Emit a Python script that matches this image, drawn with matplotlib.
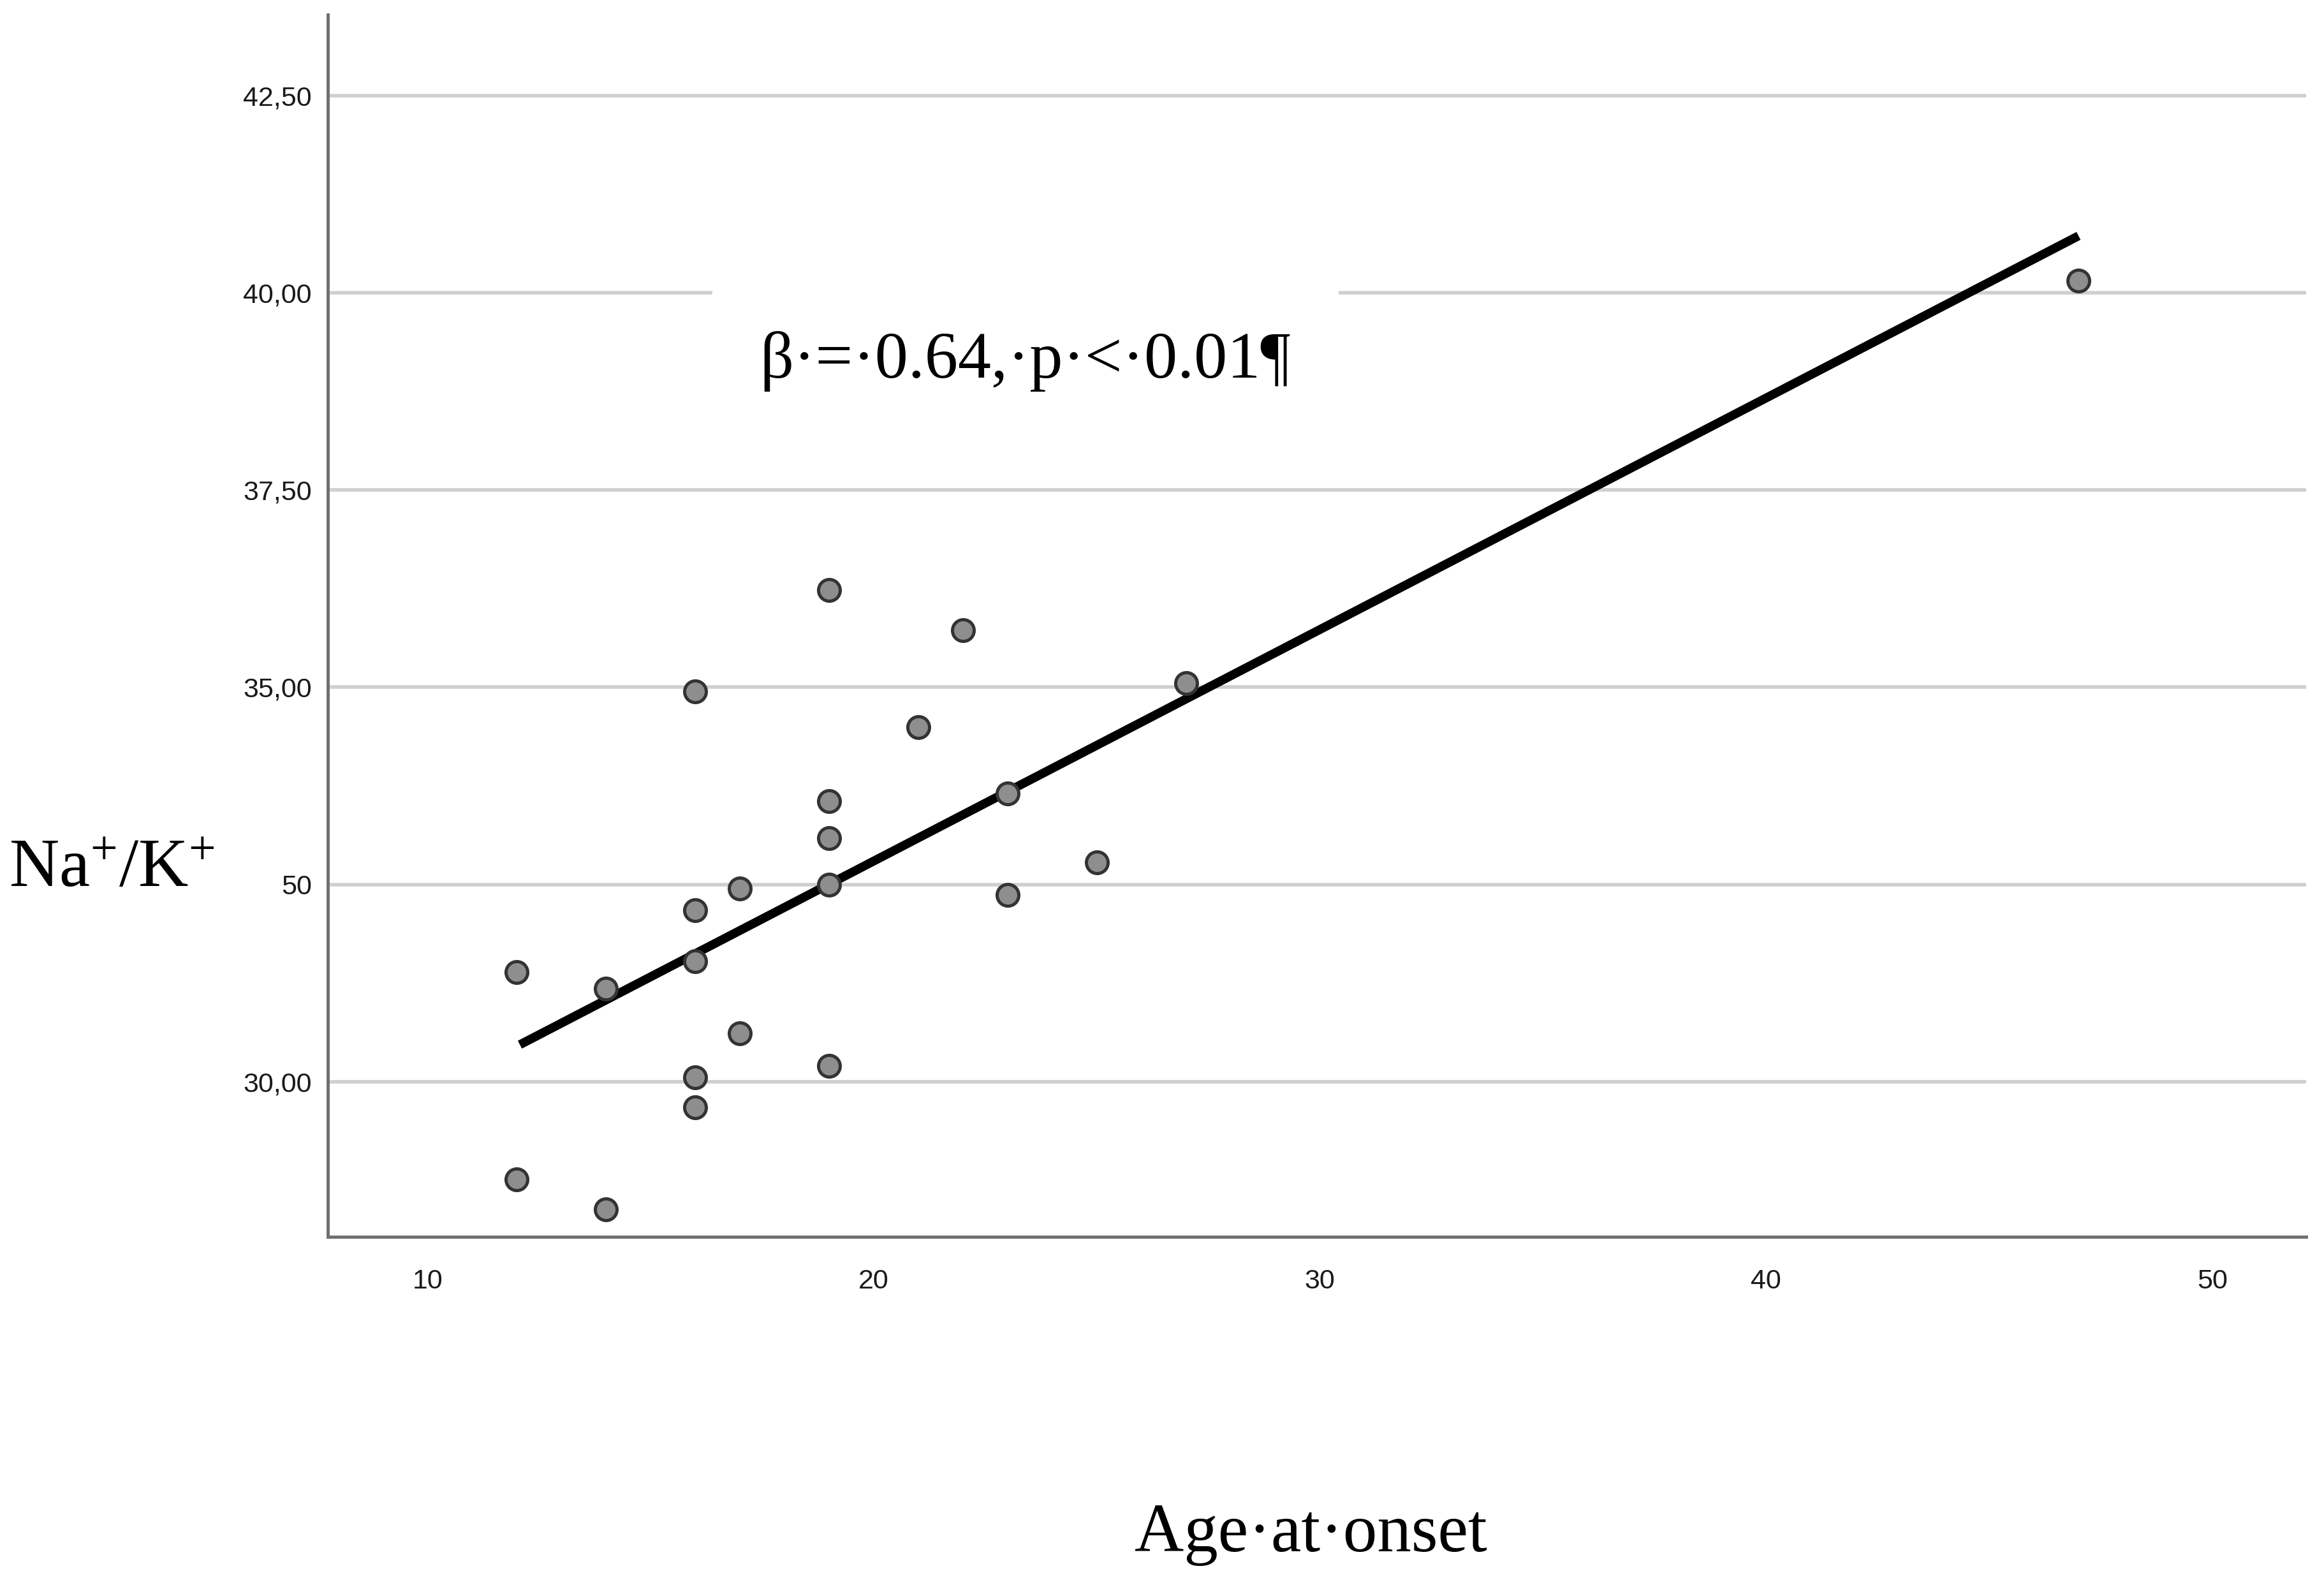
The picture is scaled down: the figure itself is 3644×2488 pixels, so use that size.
import matplotlib
matplotlib.use('Agg')
import matplotlib.pyplot as plt

# Age at onset vs Na+/K+ ratio
age = [12, 12, 14, 14, 16, 16, 16, 16, 16, 17, 17,
       19, 19, 19, 19, 19, 21, 22, 23, 23, 25, 27, 47]
na_k = [31.39, 28.76, 31.18, 28.38, 34.95, 32.17, 31.53, 30.06, 29.68, 32.45, 30.61,
        36.23, 33.56, 33.09, 32.50, 30.20, 34.49, 35.72, 33.65, 32.37, 32.78, 35.05, 40.15]

# fitted line end points
fit_x = [12.07, 47.0]
fit_y = [30.47, 40.72]

y_ticks = [30.0, 32.5, 35.0, 37.5, 40.0, 42.5]
y_tick_labels = ['30,00', '50', '35,00', '37,50', '40,00', '42,50']
x_ticks = [10, 20, 30, 40, 50]

annotation = 'β·=·0.64,·p·<·0.01¶'

plt.rcParams['mathtext.fontset'] = 'custom'
plt.rcParams['mathtext.rm'] = 'Liberation Serif'

fig = plt.figure(figsize=(18.22, 12.44), dpi=200)
ax = fig.add_axes([0.1410, 0.2207, 0.9923 - 0.1410, 0.9906 - 0.2207])

ax.set_xlim(7.763, 52.10)
ax.set_ylim(28.036, 43.52)

for yt in y_ticks:
    ax.axhline(yt, color='#cfcfcf', linewidth=2.0, zorder=1)

ax.plot(fit_x, fit_y, color='black', linewidth=5.0, solid_capstyle='butt', zorder=3)
ax.scatter(age, na_k, s=150, facecolor='#8e8e8e', edgecolor='#333333',
           linewidth=1.8, zorder=4)

ax.text(17.45, 39.13, annotation, family=['Liberation Serif', 'DejaVu Serif'],
        fontsize=37.5, va='center', ha='left', zorder=2,
        bbox=dict(facecolor='white', edgecolor='none', pad=27))

for side in ['top', 'right']:
    ax.spines[side].set_visible(False)
for side in ['left', 'bottom']:
    ax.spines[side].set_color('#707070')
    ax.spines[side].set_linewidth(1.8)

ax.set_yticks(y_ticks)
ax.set_yticklabels(y_tick_labels)
ax.set_xticks(x_ticks)
ax.tick_params(axis='both', length=0, labelsize=15.5, labelcolor='#1a1a1a')
ax.tick_params(axis='y', pad=9)
ax.tick_params(axis='x', pad=18)
for lbl in ax.get_xticklabels() + ax.get_yticklabels():
    lbl.set_family('Liberation Sans')

fig.text(0.048, 0.4535, r'$\mathrm{Na^{+}/K^{+}}$', fontsize=39,
         ha='center', va='center')
fig.text(0.564, 0.033, 'Age·at·onset', family='Liberation Serif',
         fontsize=38.5, ha='center', va='center')

fig.savefig('out.png', dpi=200, facecolor='white')
